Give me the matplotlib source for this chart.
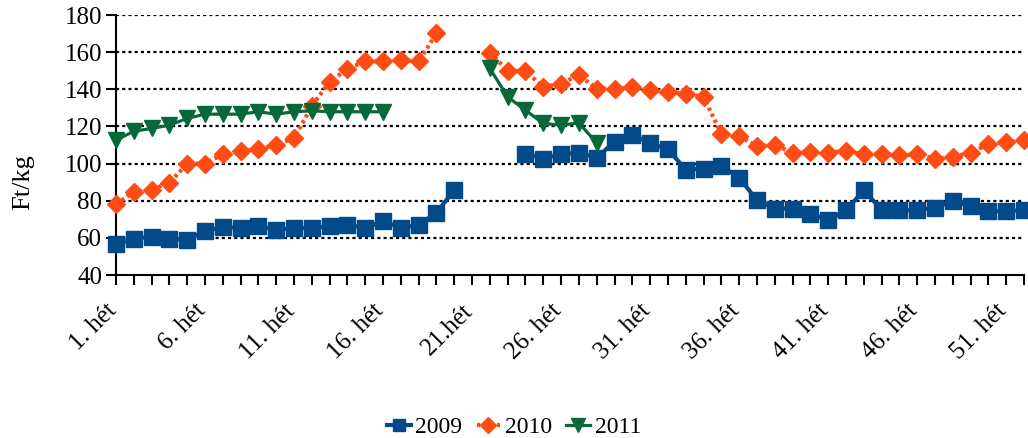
import numpy as np
import matplotlib
matplotlib.use('Agg')
import matplotlib.pyplot as plt
import matplotlib.transforms as mtransforms

nan = np.nan

weeks = list(range(1, 53))
tick_labels = {1: '1. hét', 6: '6. hét', 11: '11. hét', 16: '16. hét', 21: '21.hét',
               26: '26. hét', 31: '31. hét', 36: '36. hét', 41: '41. hét',
               46: '46. hét', 51: '51. hét'}

y2009 = [56.5, 59.5, 60.7, 59.6, 58.9, 63.6, 65.8, 65.3, 66.2, 64.4,
         65.3, 65.3, 66.4, 67.1, 65.3, 69.1, 65.3, 67.1, 73.5, 85.8,
         nan, nan, nan, 105.4, 102.7, 105.0, 105.8, 103.2, 111.7, 115.3,
         111.1, 107.6, 96.8, 97.3, 98.7, 92.5, 80.2, 75.8, 75.8, 73.0,
         69.5, 74.9, 85.6, 75.2, 74.9, 74.9, 76.3, 79.7, 77.0, 74.3,
         74.3, 74.9]

y2010 = [78.1, 84.7, 86.0, 89.6, 100.0, 100.0, 105.0, 106.8, 107.6, 110.2,
         113.6, 131.0, 144.1, 151.0, 155.0, 155.0, 155.7, 155.0, 170.1, nan,
         nan, 159.8, 150.0, 149.8, 141.3, 143.1, 147.6, 140.4, 140.4, 141.0,
         139.5, 138.6, 137.7, 135.9, 116.0, 114.7, 109.5, 109.9, 105.9, 106.3,
         105.9, 106.8, 105.0, 105.4, 104.5, 105.0, 102.7, 103.6, 105.9, 110.4,
         111.7, 112.6]

y2011 = [112.6, 117.4, 118.9, 120.7, 124.3, 126.6, 126.6, 126.6, 127.9, 126.6,
         127.9, 128.4, 127.9, 127.9, 127.9, 127.9, nan, nan, nan, nan,
         nan, 151.2, 135.9, 128.7, 121.6, 120.7, 121.9, 111.1] + [nan] * 24

plt.rcParams['font.family'] = ['Liberation Serif', 'DejaVu Serif']
plt.rcParams['font.size'] = 18

fig = plt.figure(figsize=(10.28, 4.38), dpi=100)
ax = fig.add_axes([116 / 1028, 1 - 275 / 438, 908 / 1028, 260 / 438])

blue = '#034A8A'
orange = '#FF4C14'
green = '#07693A'

ax.plot(weeks, y2009, color=blue, lw=3, marker='s', ms=11, label='2009',
        clip_on=False, zorder=3)
ax.plot(weeks, y2010, color=orange, lw=3, linestyle=(0, (0.8, 0.8)),
        dash_capstyle='butt', marker='D', ms=9, label='2010',
        clip_on=False, zorder=4)
ax.plot(weeks, y2011, color=green, lw=2.3, marker='v', ms=12, label='2011',
        clip_on=False, zorder=5)

ax.set_xlim(1, 52)
ax.set_ylim(40, 180)
ax.set_yticks(range(40, 181, 20))
ax.set_xticks(weeks)
ax.set_xticklabels([tick_labels.get(w, '') for w in weeks], rotation=45,
                   ha='right', rotation_mode='default')
ax.tick_params(axis='x', length=7, width=1.5, direction='out', pad=11)
ax.tick_params(axis='y', length=7, width=1.5, direction='out', pad=3)

# nudge the slanted week labels a little to the right, like the original
shift = mtransforms.ScaledTranslation(5 / 100, 0, fig.dpi_scale_trans)
for lab in ax.get_xticklabels():
    lab.set_transform(lab.get_transform() + shift)

for v in range(60, 181, 20):
    ax.axhline(v, color='black', lw=1.6, linestyle=(0, (1.4, 1.4)),
               dash_capstyle='butt', zorder=1)

for s in ['top', 'right']:
    ax.spines[s].set_visible(False)
ax.spines['left'].set_linewidth(1.5)
ax.spines['bottom'].set_linewidth(1.5)

ax.set_ylabel('Ft/kg', fontsize=19)
ax.yaxis.set_label_coords(-0.0905, 0.358)

fig.legend(loc='center', bbox_to_anchor=(0.5, 0.025), ncol=3, frameon=False,
           fontsize=17, handlelength=1.0, handletextpad=0.2, columnspacing=0.6,
           markerscale=0.85, borderpad=0)

fig.savefig('out.png', dpi=100)
